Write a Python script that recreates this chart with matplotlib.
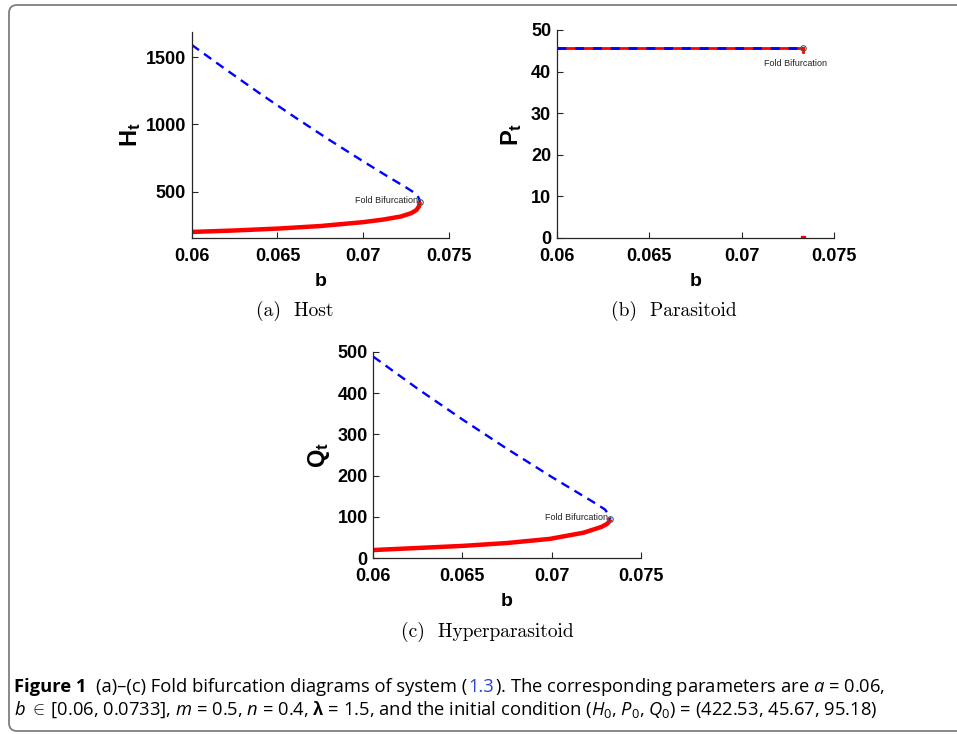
import matplotlib
matplotlib.use("Agg")
import matplotlib.pyplot as plt
from matplotlib.patches import FancyBboxPatch

# fold bifurcation branches
b_H_unst = [0.0600, 0.0620, 0.0640, 0.0660, 0.0680, 0.0700, 0.0715, 0.0725, 0.07294, 0.0732, 0.07328, 0.0733]
H_unst = [1592, 1408, 1228, 1055, 887, 725, 607, 531, 495, 460, 440, 423]
b_H_stab = [0.0600, 0.0625, 0.0650, 0.0675, 0.0700, 0.0712, 0.0722, 0.0728, 0.0731, 0.07325, 0.0733]
H_stab = [200, 211, 225, 244, 273, 293, 315, 340, 363, 390, 423]

b_P = [0.0600, 0.0733]
P_unst = [45.67, 45.67]
P_stab = [45.67, 45.67]
b_P_drop = [0.0733, 0.0733]
P_drop = [45.67, 44.6]
P_low = [0.0]

b_Q_unst = [0.0600, 0.0625, 0.0650, 0.0675, 0.0700, 0.0715, 0.0725, 0.0730, 0.07318, 0.0733]
Q_unst = [488, 410, 336, 265, 197, 158, 132, 118, 107, 95]
b_Q_stab = [0.0600, 0.0625, 0.0650, 0.0675, 0.0699, 0.0718, 0.0728, 0.0731, 0.07322, 0.0733]
Q_stab = [20, 25, 30, 37, 47, 62, 76, 83, 88, 95]

b_fold = 0.0733
H_fold, P_fold, Q_fold = 422.53, 45.67, 95.18

xticks = [0.06, 0.065, 0.07, 0.075]
xticklabels = ['0.06', '0.065', '0.07', '0.075']

plt.rcParams['font.family'] = 'Liberation Sans'
plt.rcParams['mathtext.fontset'] = 'custom'
plt.rcParams['mathtext.bf'] = 'Liberation Sans:bold'
plt.rcParams['mathtext.rm'] = 'Open Sans'
plt.rcParams['mathtext.it'] = 'Open Sans:italic'

fig = plt.figure(figsize=(9.57, 7.34), dpi=100)
W, Hh = 957.0, 734.0


def px_axes(left, top, right, bottom):
    return fig.add_axes([left / W, 1 - bottom / Hh, (right - left) / W, (bottom - top) / Hh])


def style(ax, ylim, yticks, ylabel, ylpad):
    ax.set_xlim(0.06, 0.075)
    ax.set_ylim(*ylim)
    ax.set_xticks(xticks)
    ax.set_xticklabels(xticklabels)
    ax.set_yticks(yticks)
    ax.spines['top'].set_visible(False)
    ax.spines['right'].set_visible(False)
    for s in ['left', 'bottom']:
        ax.spines[s].set_linewidth(0.9)
        ax.spines[s].set_color('#262626')
    ax.tick_params(direction='in', length=4, width=0.8, labelsize=13, colors='#262626')
    ax.tick_params(axis='x', pad=7)
    ax.tick_params(axis='y', pad=4)
    for lab in ax.get_xticklabels() + ax.get_yticklabels():
        lab.set_fontweight('bold')
        lab.set_color('black')
    ax.set_xlabel('b', fontsize=14, fontweight='bold', labelpad=6)
    ax.set_ylabel(ylabel, fontsize=17, labelpad=ylpad)


def fold_mark(ax, y, txt_off, ha):
    ax.plot([b_fold], [y], 'o', mfc='none', mec='#555555', ms=4, mew=0.8, zorder=5)
    ax.annotate('Fold Bifurcation', (b_fold, y), xytext=txt_off, textcoords='offset points',
                fontsize=6.5, color='#222222', ha=ha, va='center')


dash = dict(color='#0000ff', lw=1.7, dashes=(3.8, 2.6))

# (a) host
ax1 = px_axes(191.7, 31.7, 449, 238)
ax1.plot(b_H_stab, H_stab, color='#ff0000', lw=3.2, solid_capstyle='butt')
ax1.plot(b_H_unst, H_unst, **dash)
fold_mark(ax1, H_fold, (-1, 1), 'right')
style(ax1, (155, 1690), [500, 1000, 1500], r'$\mathbf{H_t}$', 2)

# (b) parasitoid
ax2 = px_axes(556.7, 30, 834, 238)
ax2.plot(b_P, P_stab, color='#ff0000', lw=2)
ax2.plot(b_P_drop, P_drop, color='#ff0000', lw=2)
ax2.plot([b_fold], P_low, 's', color='#ff0000', ms=2.5)
ax2.plot(b_P, P_unst, color='#0000ff', lw=2, dashes=(3.2, 3.2))
fold_mark(ax2, P_fold, (-5, -11), 'center')
style(ax2, (0, 50), [0, 10, 20, 30, 40, 50], r'$\mathbf{P_t}$', 5)

# (c) hyperparasitoid
ax3 = px_axes(373.3, 351.7, 640.7, 558.3)
ax3.plot(b_Q_stab, Q_stab, color='#ff0000', lw=3.2, solid_capstyle='butt')
ax3.plot(b_Q_unst, Q_unst, **dash)
fold_mark(ax3, Q_fold, (-2, 1), 'right')
style(ax3, (0, 500), [0, 100, 200, 300, 400, 500], r'$\mathbf{Q_t}$', 4)

# sub-captions
capkw = dict(family='cmr10', fontsize=14, ha='center', va='center')
fig.text(295 / W, 1 - 311 / Hh, '(a)  Host', **capkw)
fig.text(674 / W, 1 - 311 / Hh, '(b)  Parasitoid', **capkw)
fig.text(487 / W, 1 - 631.5 / Hh, '(c)  Hyperparasitoid', **capkw)

# frame
fig.patches.append(FancyBboxPatch((9, 3), 980, 726, boxstyle='round,pad=0,rounding_size=8',
                                  transform=None, fc='none', ec='#7f7f7f', lw=1.3, figure=fig))

# figure caption, drawn piece by piece on a common baseline
renderer = fig.canvas.get_renderer()
cap_size = 13.2


def write(pieces, x, y):
    for s, kw, gap in pieces:
        t = fig.text(x / W, 1 - y / Hh, s, fontsize=cap_size, family='Open Sans', va='baseline', **kw)
        x = t.get_window_extent(renderer).x1 + gap


write([('Figure 1', dict(fontweight='bold'), 10),
       ('(a)–(c) Fold bifurcation diagrams of system (', {}, 0.5),
       ('1.3', dict(color='#2a44d4'), 0.5),
       ('). The corresponding parameters are $a$ = 0.06,', {}, 0)], 14, 692)
write([(r'$b$ $\in\,$[0.06, 0.0733], $m$ = 0.5, $n$ = 0.4, $\mathbf{\lambda}$ = 1.5, and the initial condition '
        r'($H_0$, $P_0$, $Q_0$) = (422.53, 45.67, 95.18)', {}, 0)], 14, 715)

fig.savefig('out.png', dpi=100)
